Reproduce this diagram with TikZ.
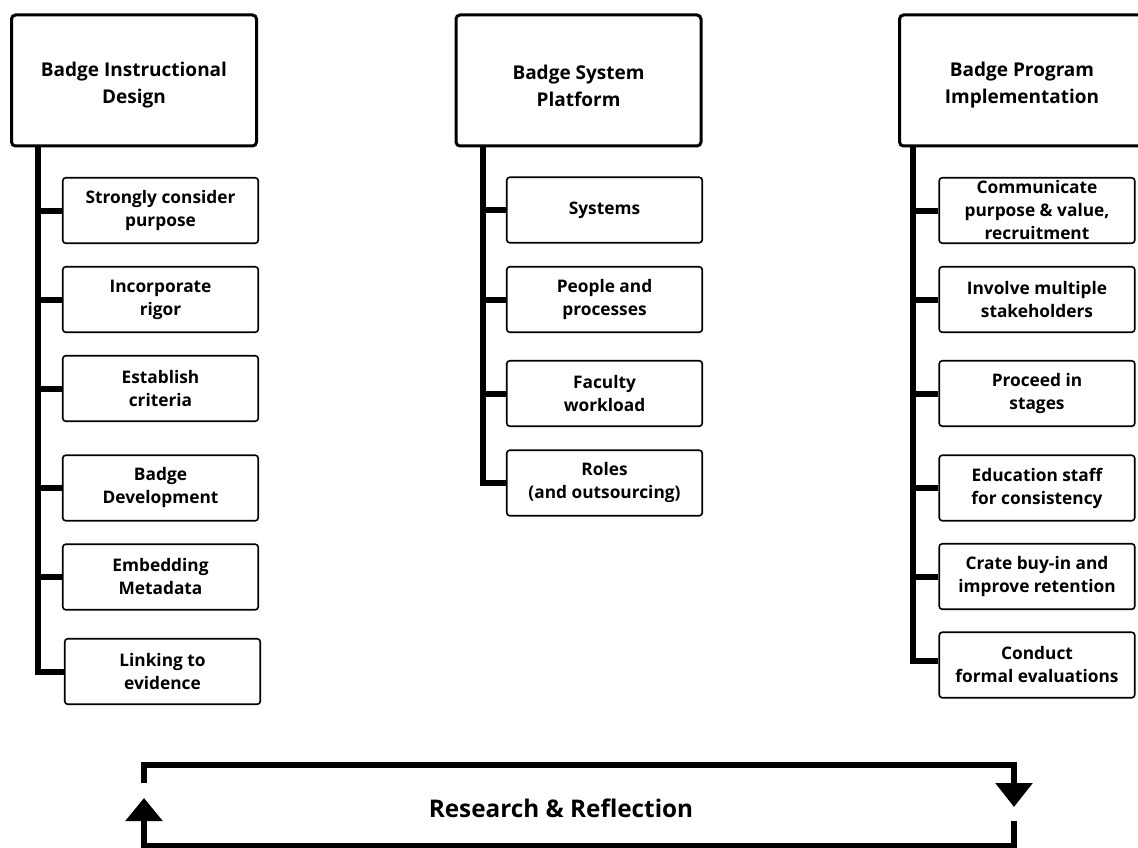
\documentclass[tikz,border=0pt]{standalone}
\usepackage{fontspec}
\setmainfont{Open Sans}
\usetikzlibrary{arrows.meta}
\begin{document}
\begin{tikzpicture}[x=1pt,y=-1pt,
  hdr/.style={draw, line width=3pt, rounded corners=4pt, minimum width=245pt, minimum height=131pt,
    inner sep=0pt},
  hdrtext/.style={align=center, inner sep=0pt, yshift=-5pt, font=\fontsize{19}{27}\selectfont\bfseries},
  item/.style={draw, line width=1.6pt, rounded corners=3pt, minimum width=195.5pt, minimum height=65.5pt,
    align=center, inner sep=0pt, font=\fontsize{17.3}{23}\selectfont\bfseries},
  trunk/.style={line width=6pt},
  loopline/.style={line width=6pt}]
\useasboundingbox (0,0) rectangle (1138,848);
\fill[white] (0,0) rectangle (1138,848);

% headers
\node[hdr, label={[hdrtext]center:{Badge Instructional\\Design}}] (h1) at (134,80.5) {};
\node[hdr, label={[hdrtext]center:{Badge System\\Platform}}] (h2) at (578.5,80.5) {};
\node[hdr, label={[hdrtext]center:{Badge Program\\Implementation}}] (h3) at (1022,80.5) {};

% left column
\node[item] (a1) at (160.5,210.5) {Strongly consider\\purpose};
\node[item] (a2) at (160.5,299.5) {Incorporate\\rigor};
\node[item] (a3) at (160.5,388.5) {Establish\\criteria};
\node[item] (a4) at (160.5,488) {Badge\\Development};
\node[item] (a5) at (160.5,577) {Embedding\\Metadata};
\node[item] (a6) at (162.5,671.5) {Linking to\\evidence};

% middle column
\node[item] (b1) at (604.5,210) {Systems};
\node[item] (b2) at (604.5,299.5) {People and\\processes};
\node[item] (b3) at (604.5,393.5) {Faculty\\workload};
\node[item] (b4) at (604.5,483) {Roles\\(and outsourcing)};

% right column
\node[item] (c1) at (1037,210.5) {Communicate\\purpose \& value,\\recruitment};
\node[item] (c2) at (1037,299.5) {Involve multiple\\stakeholders};
\node[item] (c3) at (1037,393.5) {Proceed in\\stages};
\node[item] (c4) at (1037,488) {Education staff\\for consistency};
\node[item] (c5) at (1037,576.5) {Crate buy-in and\\improve retention};
\node[item] (c6) at (1037,665) {Conduct\\formal evaluations};

% trunks
\coordinate (t1) at (38,0);
\coordinate (t2) at (483,0);
\coordinate (t3) at (913,0);
\draw[trunk] (h1.south -| t1) |- (a6.west);
\foreach \n in {a1,a2,a3,a4,a5} \draw[trunk] (\n.west -| t1) -- (\n.west);
\draw[trunk] (h2.south -| t2) |- (b4.west);
\foreach \n in {b1,b2,b3} \draw[trunk] (\n.west -| t2) -- (\n.west);
\draw[trunk] (h3.south -| t3) |- ([yshift=4pt]c6.west);
\foreach \n in {c1,c2,c3,c4,c5} \draw[trunk] (\n.west -| t3) -- (\n.west);

% research loop
\coordinate (la) at (144,783);
\coordinate (ltop) at (144,765);
\coordinate (rtop) at (1014,765);
\coordinate (rtip) at (1014,807);
\coordinate (rlow) at (1014,821);
\coordinate (rbot) at (1014,846);
\coordinate (lbot) at (144,846);
\coordinate (ltip) at (144,798);
\draw[loopline, -{Triangle[length=24pt,width=36pt]}] (la) -- (ltop) -- (rtop) -- (rtip);
\draw[loopline, -{Triangle[length=23pt,width=36pt]}] (rlow) -- (rbot) -- (lbot) -- (ltip);
\node[font=\fontsize{24.3}{29}\selectfont\bfseries] (rr) at (561,808) {Research \& Reflection};
\end{tikzpicture}
\end{document}
